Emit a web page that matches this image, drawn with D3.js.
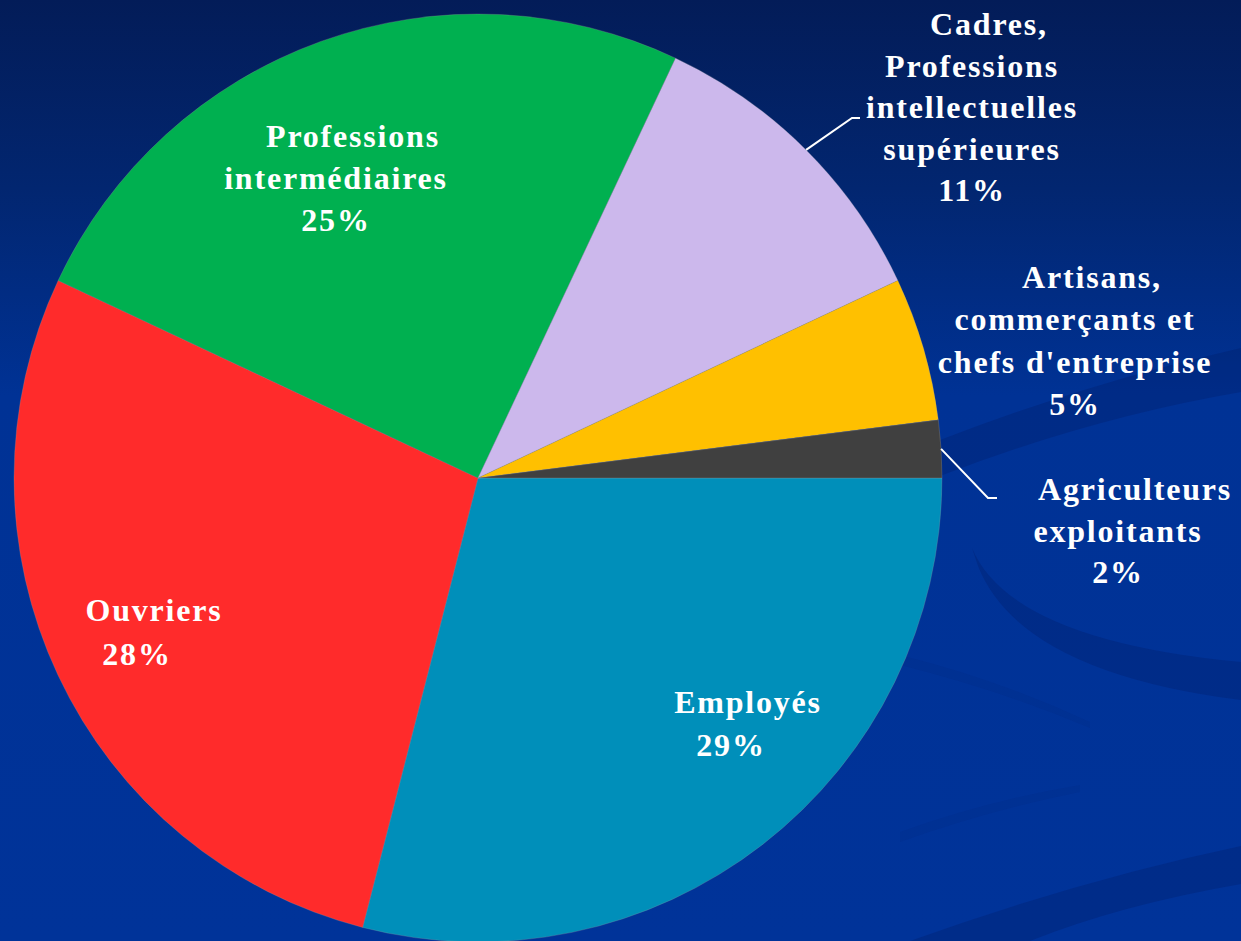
<!DOCTYPE html>
<html>
<head>
<meta charset="utf-8">
<script src="https://cdn.jsdelivr.net/npm/d3@7"></script>
<style>
  html, body { margin: 0; padding: 0; overflow: hidden; background: #003399; }
  svg { display: block; }
</style>
</head>
<body>
<svg id="chart" width="1241" height="941"></svg>
<script>
// ---- data ----
const categories = [
  "Employés",
  "Ouvriers",
  "Professions intermédiaires",
  "Cadres, Professions intellectuelles supérieures",
  "Artisans, commerçants et chefs d'entreprise",
  "Agriculteurs exploitants"
];
const values = [29, 28, 25, 11, 5, 2];
const labelLines = [
  ["Employés"],
  ["Ouvriers"],
  ["Professions", "intermédiaires"],
  ["Cadres,", "Professions", "intellectuelles", "supérieures"],
  ["Artisans,", "commerçants et", "chefs d'entreprise"],
  ["Agriculteurs", "exploitants"]
];
const colors = ["#008FBA", "#FF2B2B", "#00B050", "#CCB8EC", "#FFC000", "#404040"];

// ---- layout (positions / styles) ----
const W = 1241, H = 941;
const cx = 478, cy = 478, R = 464;
const labelPos = [
  { x: 731, y: 713, lh: 43 },
  { x: 137, y: 621, lh: 44 },
  { x: 336, y: 147, lh: 42 },
  { x: 972, y: 35, lh: 41.5 },
  { x: 1075, y: 288, lh: 42.3 },
  { x: 1118, y: 500, lh: 41.5 }
];
const leaders = { 3: [[852, 118], [860, 118]], 5: [[988, 498], [997, 498]] };
const firstLineShift = 17;

const svg = d3.select("#chart");
const defs = svg.append("defs");
const grad = defs.append("linearGradient").attr("id", "bg")
  .attr("x1", 0).attr("y1", 0).attr("x2", 0).attr("y2", 1);
grad.append("stop").attr("offset", "0%").attr("stop-color", "#031C58");
grad.append("stop").attr("offset", "20%").attr("stop-color", "#022670");
grad.append("stop").attr("offset", "42%").attr("stop-color", "#003295");
grad.append("stop").attr("offset", "100%").attr("stop-color", "#003399");
svg.append("rect").attr("width", W).attr("height", H).attr("fill", "url(#bg)");

// background swooshes
const swooshes = [
  "M940,440 Q1090,382 1241,348 L1241,392 Q1090,418 940,476 Z",
  "M972,548 Q1010,640 1241,662 L1241,700 Q1020,672 978,566 Z",
  "M910,941 Q1080,880 1241,846 L1241,884 Q1120,905 1030,941 Z",
  "M900,655 Q1000,680 1090,722 L1090,728 Q1000,690 900,665 Z",
  "M900,832 Q990,800 1080,785 L1080,792 Q990,810 900,842 Z"
];
svg.append("g").selectAll("path").data(swooshes).join("path")
  .attr("d", d => d)
  .attr("fill", (d, i) => i < 3 ? "rgba(0,25,90,0.25)" : "rgba(0,25,90,0.08)");

// pie
const pie = d3.pie().sort(null).value(d => d)
  .startAngle(Math.PI / 2).endAngle(Math.PI / 2 + 2 * Math.PI);
const arcs = pie(values);
const arc = d3.arc().innerRadius(0).outerRadius(R);

const g = svg.append("g").attr("transform", `translate(${cx},${cy})`);
g.selectAll("path.slice").data(arcs).join("path")
  .attr("class", "slice")
  .attr("d", arc)
  .attr("fill", (d, i) => colors[i])
  .attr("stroke", "rgba(160,160,160,0.5)")
  .attr("stroke-width", 0.5);

// leader lines
const edgeArc = d3.arc().innerRadius(R).outerRadius(R);
Object.keys(leaders).forEach(k => {
  const i = +k;
  const c = edgeArc.centroid(arcs[i]);
  const pts = [[cx + c[0], cy + c[1]], ...leaders[k]];
  svg.append("path")
    .attr("d", d3.line()(pts))
    .attr("fill", "none")
    .attr("stroke", "#FFFFFF")
    .attr("stroke-width", 2);
});

// labels
const labels = svg.append("g")
  .attr("font-family", "'Liberation Serif', 'Times New Roman', serif")
  .attr("font-weight", "bold")
  .attr("font-size", 32)
  .attr("letter-spacing", "1.8px")
  .attr("fill", "#FFFFFF")
  .attr("text-anchor", "middle");

categories.forEach((cat, i) => {
  const p = labelPos[i];
  const lines = labelLines[i].concat([values[i] + "%"]);
  const t = labels.append("text");
  lines.forEach((ln, j) => {
    t.append("tspan")
      .attr("x", p.x + (j === 0 ? firstLineShift : 0))
      .attr("y", p.y + j * p.lh)
      .text(ln);
  });
});
</script>
</body>
</html>
